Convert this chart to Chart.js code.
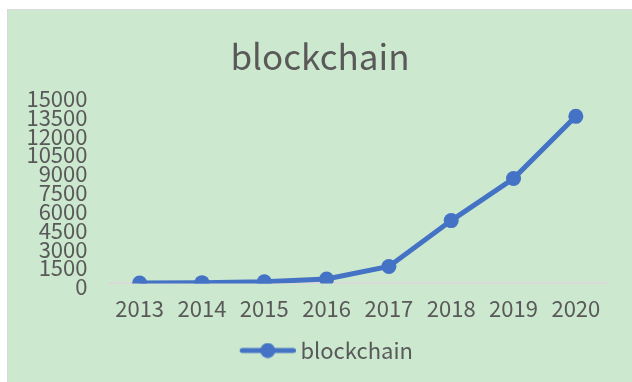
<!DOCTYPE html>
<html>
<head>
<meta charset="utf-8">
<script src="https://cdn.jsdelivr.net/npm/chart.js"></script>
<style>
  body { margin: 0; background: #fff; }
  #frame {
    position: absolute; left: 7px; top: 9px;
    width: 625px; height: 373px;
    box-sizing: border-box;
    background: #cce8cf;
    border-left: 1px solid #d9d9d9;
    border-top: 1px solid #d9d9d9;
  }
  #chart { display: block; }
</style>
</head>
<body>
<div id="frame"><canvas id="chart" width="624" height="372"></canvas></div>
<script>
const years = ['2013', '2014', '2015', '2016', '2017', '2018', '2019', '2020'];
const counts = [30, 60, 130, 350, 1350, 5000, 8350, 13300];
const seriesName = 'blockchain';

const lineColor = '#4472c4';
const textColor = '#595959';

Chart.defaults.font.family = '"Noto Sans CJK SC", sans-serif';
Chart.defaults.color = textColor;

// legend icon: line with a dot, like the excel legend
const legendIcon = document.createElement('canvas');
legendIcon.width = 75;
legendIcon.height = 16;
const ictx = legendIcon.getContext('2d');
ictx.strokeStyle = lineColor;
ictx.fillStyle = lineColor;
ictx.lineWidth = 5;
ictx.lineCap = 'round';
ictx.beginPath();
ictx.moveTo(21.5, 8);
ictx.lineTo(72.5, 8);
ictx.stroke();
ictx.beginPath();
ictx.arc(47, 8, 7.5, 0, Math.PI * 2);
ictx.fill();

new Chart(document.getElementById('chart'), {
  type: 'line',
  data: {
    labels: years,
    datasets: [{
      label: seriesName,
      data: counts,
      borderColor: lineColor,
      backgroundColor: lineColor,
      borderWidth: 5,
      pointRadius: 7.5,
      pointHoverRadius: 7.5,
      pointBorderWidth: 0,
      tension: 0
    }]
  },
  options: {
    responsive: false,
    animation: false,
    layout: { padding: { left: 0, right: 0, top: 0, bottom: 10.5 } },
    plugins: {
      title: {
        display: true,
        text: 'blockchain',
        color: textColor,
        font: { size: 35, weight: 'normal' },
        padding: { top: 25.8, bottom: 17.2 }
      },
      legend: {
        position: 'bottom',
        labels: {
          usePointStyle: true,
          pointStyle: legendIcon,
          pointStyleWidth: 62.4,
          padding: 5.7,
          color: textColor,
          font: { size: 22 }
        }
      },
      tooltip: { enabled: false }
    },
    scales: {
      x: {
        offset: true,
        grid: { display: false, drawTicks: false },
        border: { display: true, color: '#d9d9d9', width: 2 },
        ticks: { padding: 12, color: textColor, font: { size: 22 }, maxRotation: 0 }
      },
      y: {
        min: 0,
        max: 15000,
        grid: { display: false, drawTicks: false },
        border: { display: false },
        ticks: {
          count: 11,
          autoSkip: false,
          padding: 21,
          labelOffset: 3.5,
          color: textColor,
          font: { size: 22 },
          callback: function(value) { return String(value); }
        },
        afterFit: function(scale) { scale.width = 100.5; }
      },
      // empty axis that only keeps the right margin
      yRight: {
        position: 'right',
        display: true,
        grid: { display: false, drawTicks: false },
        border: { display: false },
        ticks: { display: false },
        afterFit: function(scale) { scale.width = 25; }
      }
    }
  }
});
</script>
</body>
</html>
